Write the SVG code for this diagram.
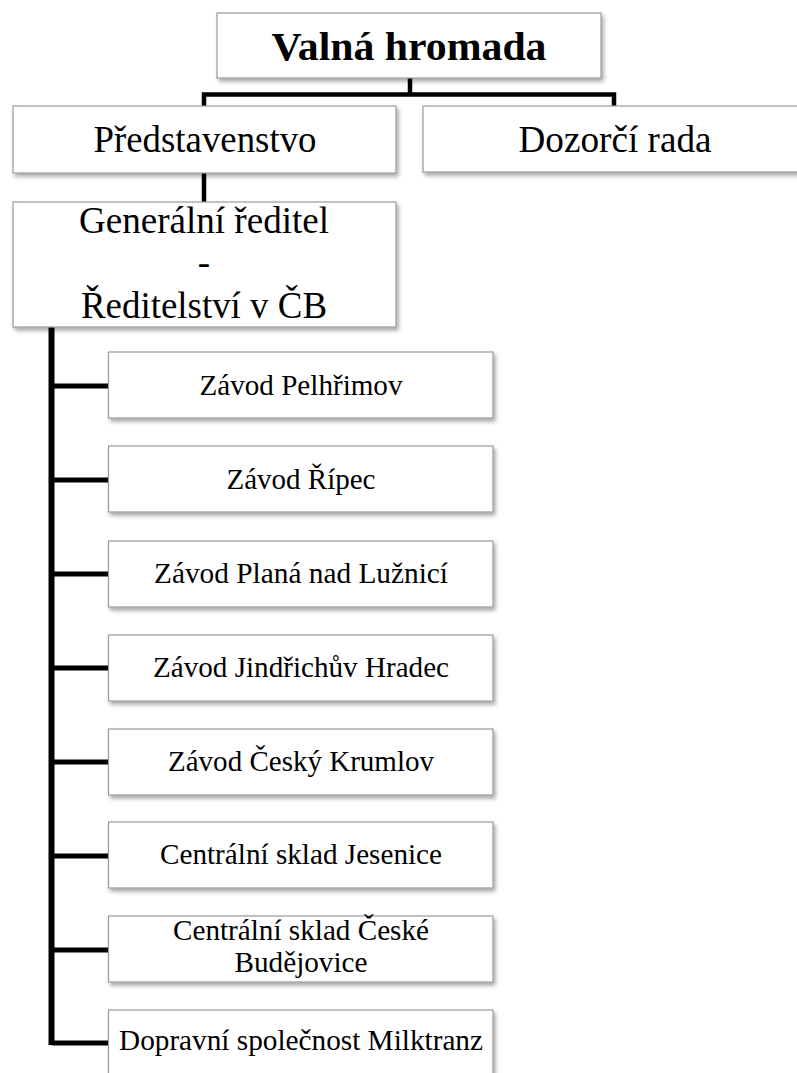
<svg xmlns="http://www.w3.org/2000/svg" width="797" height="1073" viewBox="0 0 797 1073">
<defs>
<filter id="sh" x="-5%" y="-10%" width="115%" height="130%">
<feDropShadow dx="2" dy="3" stdDeviation="2" flood-color="#000" flood-opacity="0.35"/>
</filter>
<style>
.box{fill:#fff;stroke:#9a9a9a;stroke-width:1.2;filter:url(#sh)}
text{font-family:"Liberation Serif",Tinos,"Times New Roman",Times,"DejaVu Serif",serif;fill:#000;text-anchor:middle}
.t1{font-size:41px;font-weight:bold}
.t2{font-size:37px}
.t3{font-size:29px}
.c{stroke:#000;fill:none;stroke-linejoin:miter;stroke-linecap:butt}
</style>
</defs>
<rect width="797" height="1073" fill="#fff"/>
<g id="connectors">
<path class="c" stroke-width="4.5" d="M410 78 V94.5 M204 106 V94.5 H614 V106"/>
<path class="c" stroke-width="4.5" d="M204 173 V202"/>
<path class="c" stroke-width="6" d="M51.5 326 V1045"/>
<path class="c" stroke-width="5" d="M51.5 386 H109 M51.5 480 H109 M51.5 574 H109 M51.5 668 H109 M51.5 762 H109 M51.5 856 H109 M51.5 950 H109 M51.5 1043 H109"/>
</g>
<g id="valna-hromada">
<rect class="box" x="217" y="13" width="384" height="65"/>
<text class="t1" x="409" y="60" textLength="275" lengthAdjust="spacingAndGlyphs">Valná hromada</text>
</g>
<g id="predstavenstvo">
<rect class="box" x="13" y="106" width="383" height="67"/>
<text class="t2" x="205" y="152" textLength="223" lengthAdjust="spacingAndGlyphs">Představenstvo</text>
</g>
<g id="dozorci-rada">
<rect class="box" x="423" y="106" width="385" height="66"/>
<text class="t2" x="615" y="152" textLength="193" lengthAdjust="spacingAndGlyphs">Dozorčí rada</text>
</g>
<g id="generalni-reditel">
<rect class="box" x="13" y="202" width="383" height="125"/>
<text class="t2" x="204" y="233" textLength="250" lengthAdjust="spacingAndGlyphs">Generální ředitel</text>
<text class="t2" x="204" y="275">-</text>
<text class="t2" x="204" y="318" textLength="246" lengthAdjust="spacingAndGlyphs">Ředitelství v ČB</text>
</g>
<g id="zavod-pelhrimov">
<rect class="box" x="108.5" y="352" width="384.5" height="66"/>
<text class="t3" x="301" y="395" textLength="203" lengthAdjust="spacingAndGlyphs">Závod Pelhřimov</text>
</g>
<g id="zavod-ripec">
<rect class="box" x="108.5" y="446" width="384.5" height="66"/>
<text class="t3" x="301" y="489" textLength="149" lengthAdjust="spacingAndGlyphs">Závod Řípec</text>
</g>
<g id="zavod-plana">
<rect class="box" x="108.5" y="541" width="384.5" height="66"/>
<text class="t3" x="301" y="583" textLength="294" lengthAdjust="spacingAndGlyphs">Závod Planá nad Lužnicí</text>
</g>
<g id="zavod-jindrichuv-hradec">
<rect class="box" x="108.5" y="635" width="384.5" height="66"/>
<text class="t3" x="301" y="677" textLength="296" lengthAdjust="spacingAndGlyphs">Závod Jindřichův Hradec</text>
</g>
<g id="zavod-cesky-krumlov">
<rect class="box" x="108.5" y="729" width="384.5" height="66"/>
<text class="t3" x="301" y="771" textLength="266" lengthAdjust="spacingAndGlyphs">Závod Český Krumlov</text>
</g>
<g id="sklad-jesenice">
<rect class="box" x="108.5" y="822" width="384.5" height="66"/>
<text class="t3" x="301" y="864" textLength="282" lengthAdjust="spacingAndGlyphs">Centrální sklad Jesenice</text>
</g>
<g id="sklad-ceske-budejovice">
<rect class="box" x="108.5" y="916" width="384.5" height="66"/>
<text class="t3" x="301" y="940" textLength="256" lengthAdjust="spacingAndGlyphs">Centrální sklad České</text>
<text class="t3" x="301" y="972" textLength="133" lengthAdjust="spacingAndGlyphs">Budějovice</text>
</g>
<g id="milktranz">
<rect class="box" x="108.5" y="1010" width="384.5" height="70"/>
<text class="t3" x="301" y="1050" textLength="364" lengthAdjust="spacingAndGlyphs">Dopravní společnost Milktranz</text>
</g>
</svg>
